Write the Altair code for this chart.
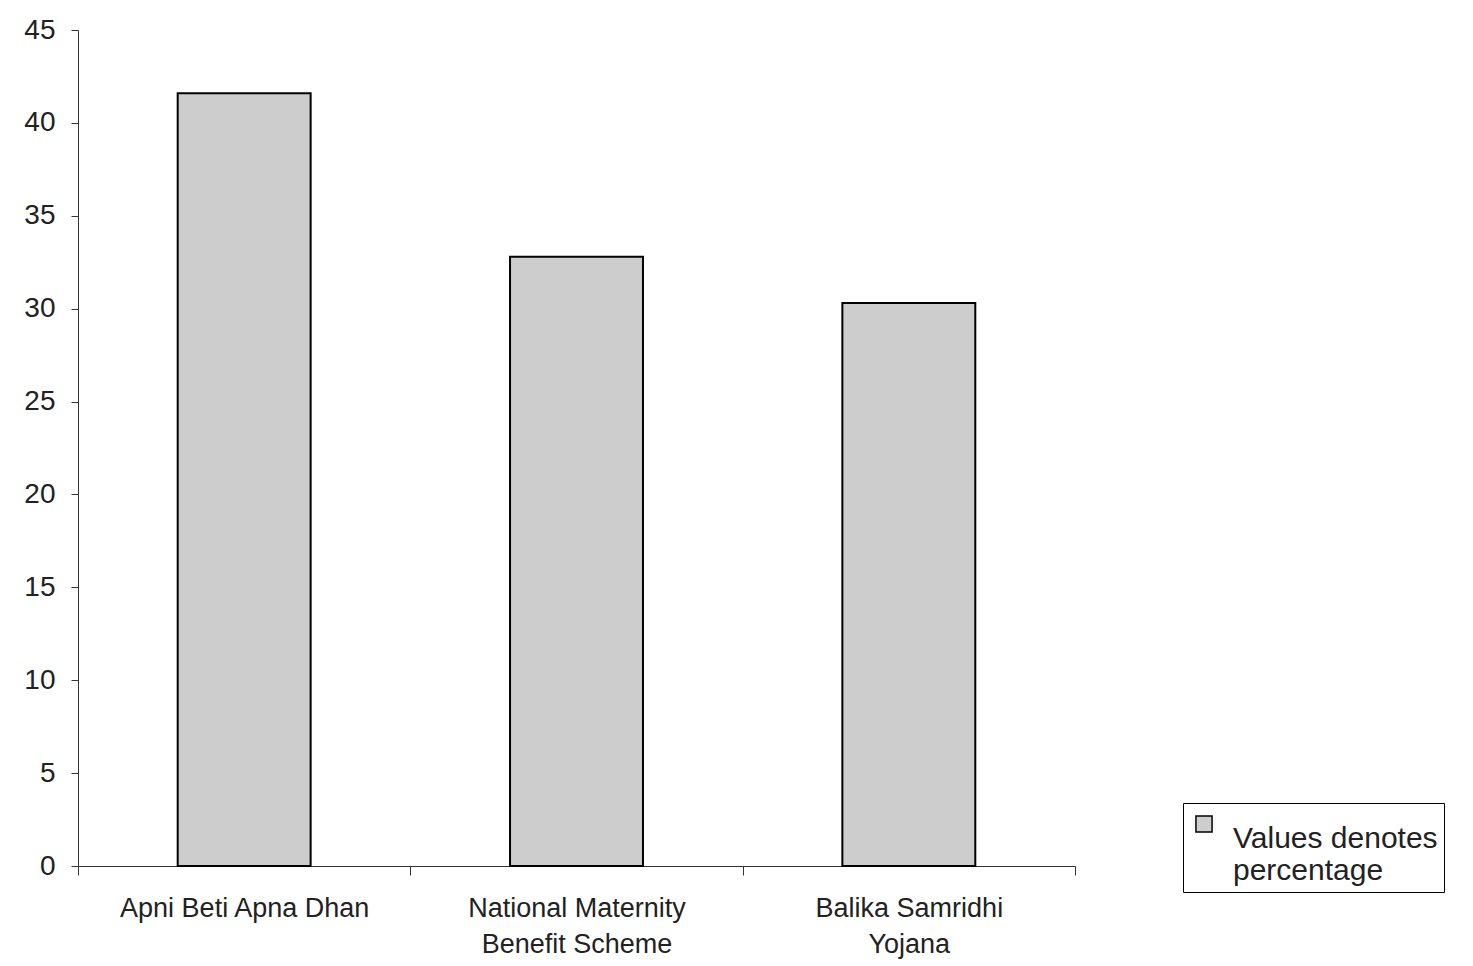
import altair as alt
import pandas as pd

categories = ["Apni Beti Apna Dhan", "National Maternity\nBenefit Scheme", "Balika Samridhi\nYojana"]
values = [41.6, 32.8, 30.3]
y_ticks = [0, 5, 10, 15, 20, 25, 30, 35, 40, 45]
series_name = "Values denotes percentage"

df = pd.DataFrame({"scheme": categories, "value": values, "series": [series_name] * 3})

FONT = "Liberation Sans Narrow, Liberation Sans, Arial, sans-serif"

chart = alt.Chart(df).mark_bar(stroke="black", strokeWidth=2, width=alt.RelativeBandSize(0.4)).encode(
    x=alt.X("scheme:N", sort=categories,
            scale=alt.Scale(paddingInner=0, paddingOuter=0),
            axis=alt.Axis(title=None, labelAngle=0, tickBand="extent",
                          labelExpr="split(datum.label, '\\n')",
                          labelFontSize=27, labelFont=FONT, labelColor="#222",
                          labelPadding=20, tickSize=9, labelLineHeight=36, labelLimit=0,
                          domainColor="#333", tickColor="#333", labelBaseline="top")),
    y=alt.Y("value:Q", scale=alt.Scale(domain=[0, 45], nice=False),
            axis=alt.Axis(title=None, values=y_ticks, grid=False,
                          labelFontSize=28, labelFont="Liberation Sans, Arial, sans-serif",
                          labelColor="#222", tickSize=7, labelPadding=16,
                          domainColor="#333", tickColor="#333")),
    fill=alt.Fill("series:N", scale=alt.Scale(range=["#cdcdcd"]),
                  legend=alt.Legend(title=None, orient="none", legendX=1105, legendY=773,
                                    labelExpr="['Values denotes', 'percentage']",
                                    labelFontSize=30, labelFont="Liberation Sans, Arial, sans-serif",
                                    labelColor="#222", symbolType="square", symbolSize=260,
                                    symbolStrokeColor="black", symbolStrokeWidth=1.5,
                                    strokeColor="black", padding=6, labelBaseline="top",
                                    labelOffset=14, labelLimit=0)),
).properties(
    width=997, height=836,
    autosize=alt.AutoSizeParams(type="none"),
    padding={"left": 70, "top": 22, "right": 390, "bottom": 100},
).configure(background="white").configure_view(stroke=None)

chart.save("out.html", embed_options={"renderer": "svg", "actions": False})
